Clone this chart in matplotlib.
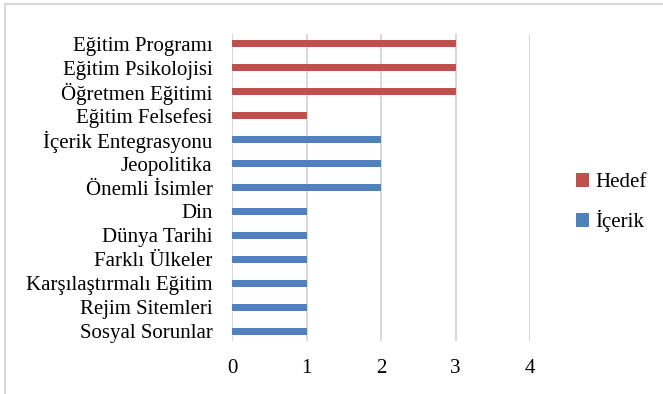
import numpy as np
import matplotlib.pyplot as plt
from matplotlib.lines import Line2D

plt.rcParams['font.family'] = ['Liberation Serif', 'DejaVu Serif']

# Veriler
kategoriler = ["Eğitim Programı", "Eğitim Psikolojisi", "Öğretmen Eğitimi",
               "Eğitim Felsefesi", "İçerik Entegrasyonu", "Jeopolitika",
               "Önemli İsimler", "Din", "Dünya Tarihi", "Farklı Ülkeler",
               "Karşılaştırmalı Eğitim", "Rejim Sitemleri", "Sosyal Sorunlar"]
hedef = [3, 3, 3, 1, 0, 0, 0, 0, 0, 0, 0, 0, 0]
icerik = [0, 0, 0, 0, 2, 2, 2, 1, 1, 1, 1, 1, 1]
x_ticks = [0, 1, 2, 3, 4]

fig = plt.figure(figsize=(6.63, 3.94), dpi=100)
ax = fig.add_axes([0.35, 0.1345, 0.4494, 0.7792])

y = np.arange(len(kategoriler))
h = 0.29
ax.barh(y, hedef, height=h, color="#C0504D", label="Hedef", zorder=3)
ax.barh(y, icerik, height=h, color="#4F81BD", label="İçerik", zorder=3)

ax.set_xlim(0, 4)
ax.set_ylim(12.4, -0.4)
ax.set_xticks(x_ticks)
ax.set_yticks(y)
ax.set_yticklabels(kategoriler)
ax.tick_params(axis="both", length=0, labelsize=15, colors="black")
ax.tick_params(axis="y", pad=14)
ax.tick_params(axis="x", pad=13)
ax.grid(axis="x", color="#D9D9D9", linewidth=1.5, zorder=0)
ax.set_axisbelow(True)
for s in ax.spines.values():
    s.set_visible(False)

leg = ax.legend(loc="center left", bbox_to_anchor=(1.092, 0.45), frameon=False,
                fontsize=15, handlelength=0.6, handleheight=0.6,
                handletextpad=0.3, labelspacing=0.85)

# çerçeve (üst ve sol kenar)
fig.add_artist(Line2D([0.008, 1.0], [0.99, 0.99], transform=fig.transFigure,
                      color="#D9D9D9", linewidth=1.5))
fig.add_artist(Line2D([0.008, 0.008], [0.0, 0.99], transform=fig.transFigure,
                      color="#D9D9D9", linewidth=1.5))

fig.savefig("out.png", dpi=100)
